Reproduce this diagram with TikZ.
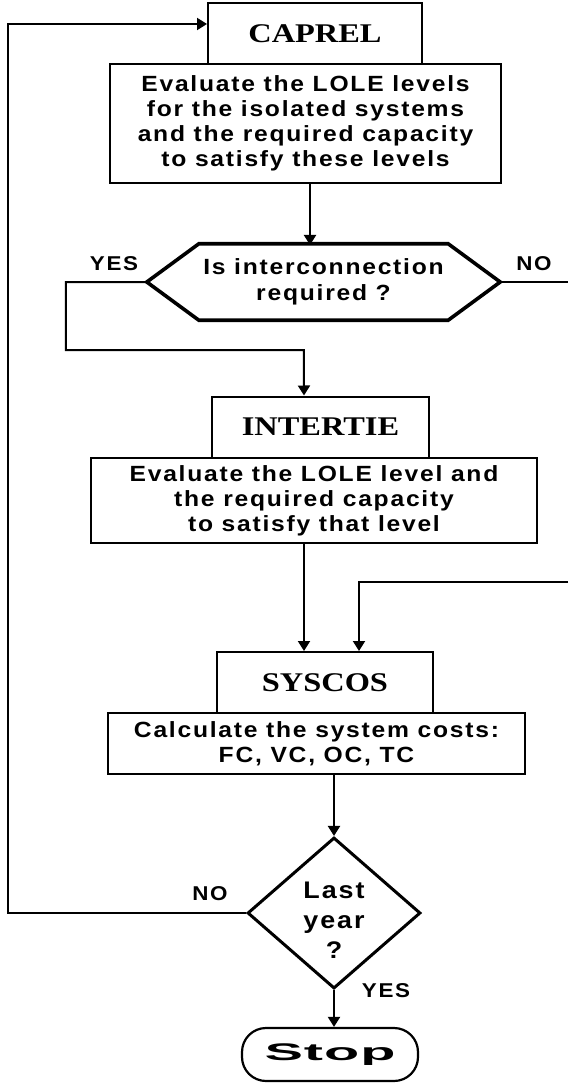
\documentclass[tikz,border=0pt]{standalone}
\usepackage{fontspec}
\usetikzlibrary{arrows.meta,shapes.geometric}
\newfontfamily\titlefont[FakeStretch=1.2]{Liberation Serif}
\newfontfamily\boxfont[FakeStretch=1.12,LetterSpace=8]{Liberation Sans}
\newfontfamily\stopfont[FakeStretch=2.4,LetterSpace=4]{Liberation Sans}

\begin{document}
\begin{tikzpicture}[x=1pt, y=-1pt,
    titlebox/.style={draw, line width=2pt, minimum width=#1, minimum height=61pt, inner sep=0pt,
        font=\titlefont\bfseries\fontsize{27}{32}\selectfont},
    descbox/.style={draw, line width=2pt, inner sep=0pt, align=center,
        font=\boxfont\bfseries\fontsize{22}{25}\selectfont},
    decision/.style={draw, diamond, line width=3pt, minimum width=173pt, minimum height=143pt,
        inner sep=0pt, align=center, font=\boxfont\bfseries\fontsize{24}{30}\selectfont},
    askbox/.style={minimum width=353pt, minimum height=76pt, inner sep=0pt, align=center,
        font=\boxfont\bfseries\fontsize{22}{26}\selectfont},
    stopbox/.style={draw, line width=2.2pt, rounded corners=24pt, minimum width=176pt,
        minimum height=53pt, inner sep=0pt, font=\stopfont\bfseries\fontsize{24}{28}\selectfont},
    ans/.style={font=\boxfont\bfseries\fontsize{20}{22}\selectfont, inner sep=0pt},
    link/.style={line width=2pt},
    flow/.style={link, -{Triangle[width=12pt,length=10pt]}},
]
    \useasboundingbox (0,0) rectangle (568,1083);

    % CAPREL
    \node[titlebox=214pt] (caprel) at (315,33.5) {CAPREL};
    \node[descbox, minimum width=391pt, minimum height=119pt] (capdesc) at (305.5,123.5)
        {Evaluate the LOLE levels\\for the isolated systems\\and the required capacity\\to satisfy these levels};

    % Interconnection question
    \node[askbox] (ask) at (323.5,282) {Is interconnection\\required ?};
    \draw[line width=3.6pt, line join=miter] (ask.west) -- ([xshift=52pt]ask.north west)
        -- ([xshift=-52pt]ask.north east) -- (ask.east)
        -- ([xshift=-52pt]ask.south east) -- ([xshift=52pt]ask.south west) -- cycle;
    \node[ans] (askyes) at (114,264) {YES};
    \node[ans] (askno) at (534,264) {NO};

    % INTERTIE
    \node[titlebox=217pt] (inter) at (320.5,427) {INTERTIE};
    \node[descbox, minimum width=446pt, minimum height=85pt] (interdesc) at (314,500.5)
        {Evaluate the LOLE level and\\the required capacity\\to satisfy that level};

    % SYSCOS
    \node[titlebox=216pt] (sys) at (325,682.5) {SYSCOS};
    \node[descbox, minimum width=417pt, minimum height=61pt] (sysdesc) at (316.5,743.5)
        {Calculate the system costs:\\FC, VC, OC, TC};

    % Last year question
    \node[decision] (last) at (334,913)
        {\raisebox{-9pt}[\height][\depth]{\begin{tabular}{@{}c@{}}Last\\year\\?\end{tabular}}};
    \node[ans] (lastno) at (210,894) {NO};
    \node[ans] (lastyes) at (386,991) {YES};

    \node[stopbox] (stop) at (330,1054.5) {Stop};

    % Connectors
    \coordinate (noback) at (568,582);
    \draw[flow] ([xshift=4.5pt]capdesc.south) -- ++(0,61);
    \draw[flow] (ask.west) -- ++(-81,0) -- ++(0,68) -- ++(238,0) -- ([xshift=-16.5pt]inter.north);
    \draw[link] (ask.east) -- ++(68,0);
    \draw[flow] ([xshift=-10pt]interdesc.south) -- ([xshift=-21pt]sys.north);
    \draw[flow] (noback) -- ++(-209,0) -- ([xshift=34pt]sys.north);
    \draw[flow] (sysdesc.south -| last.north) -- (last.north);
    \draw[flow] (last.west) -- ++(-238,0) |- ([yshift=9.5pt]caprel.west);
    \draw[flow] (last.south) -- (last.south |- stop.north);

\end{tikzpicture}
\end{document}
